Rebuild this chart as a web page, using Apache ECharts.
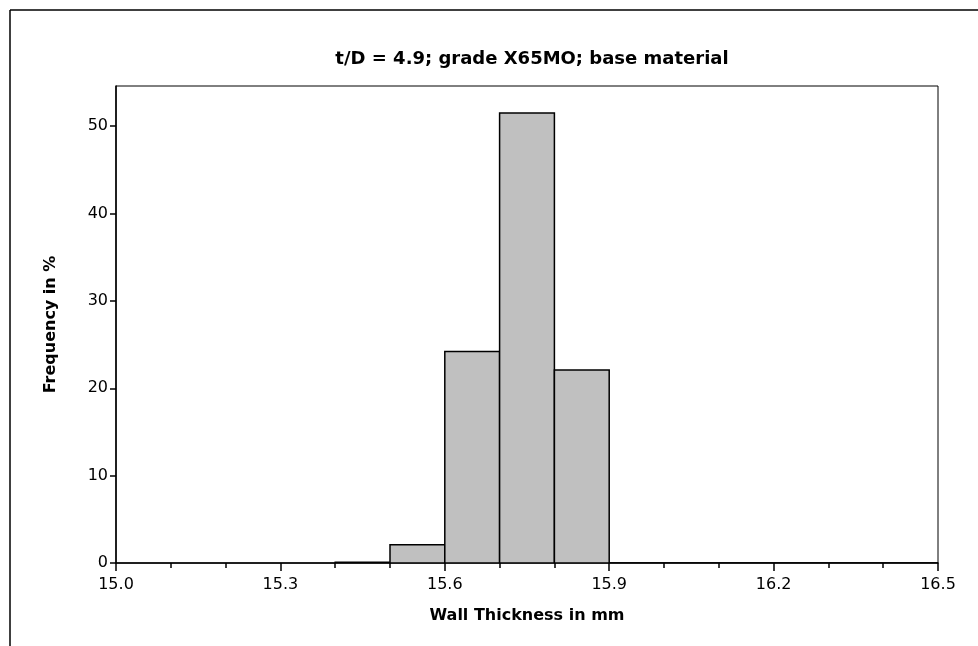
<!DOCTYPE html>
<html>
<head>
<meta charset="utf-8">
<script src="https://cdn.jsdelivr.net/npm/echarts@6/dist/echarts.min.js"></script>
<style>
	html, body { margin: 0; padding: 0; background: #fff; }
	#chart { width: 978px; height: 646px; }
</style>
</head>
<body>
<div id="chart"></div>
<script>
// histogram bins (lower edge, mm) and frequency in %
const binStarts = [15.4, 15.5, 15.6, 15.7, 15.8, 15.9, 16.0, 16.1, 16.2, 16.3, 16.4];
const binWidth = 0.1;
const frequency = [0.1, 2.1, 24.2, 51.5, 22.1, 0, 0, 0, 0, 0, 0];
const yTicks = [0, 10, 20, 30, 40, 50];

const titleText = 't/D = 4.9; grade X65MO; base material';
const fontName = '"DejaVu Sans", Verdana, sans-serif';

let myChart = echarts.init(document.getElementById('chart'), null, { renderer: 'canvas' });

let histData = binStarts.map((s, i) => [s, s + binWidth, frequency[i]]);

let option = {
	animation: false,
	backgroundColor: '#fff',
	title: {
		text: titleText,
		left: 527,
		top: 45,
		textAlign: 'center',
		textStyle: {
			fontFamily: fontName,
			fontSize: 18,
			fontWeight: 'bold',
			color: '#000'
		}
	},
	grid: {
		left: 116,
		right: 40,
		top: 86,
		bottom: 83,
		show: true,
		borderColor: '#000',
		borderWidth: 1
	},
	xAxis: {
		type: 'value',
		min: 15.0,
		max: 16.5,
		interval: 0.3,
		name: 'Wall Thickness in mm',
		nameLocation: 'middle',
		nameGap: 45,
		nameTextStyle: {
			fontFamily: fontName,
			fontSize: 16,
			fontWeight: 'bold',
			color: '#000'
		},
		axisLine: { lineStyle: { color: '#000', width: 1.5 } },
		axisTick: { inside: false, length: 8, lineStyle: { color: '#000', width: 1.5 } },
		minorTick: { show: true, splitNumber: 3, length: 5, lineStyle: { color: '#000', width: 1.5 } },
		splitLine: { show: false },
		axisLabel: {
			margin: 14,
			fontFamily: fontName,
			fontSize: 16,
			color: '#000',
			formatter: v => v.toFixed(1)
		}
	},
	yAxis: {
		type: 'value',
		min: 0,
		max: 54.6,
		name: 'Frequency in %',
		nameLocation: 'middle',
		nameGap: 57,
		nameTextStyle: {
			fontFamily: fontName,
			fontSize: 16,
			fontWeight: 'bold',
			color: '#000'
		},
		axisLine: { lineStyle: { color: '#000', width: 1.5 } },
		axisTick: { inside: false, length: 6, customValues: yTicks, lineStyle: { color: '#000', width: 1.5 } },
		splitLine: { show: false },
		axisLabel: {
			margin: 8,
			customValues: yTicks,
			fontFamily: fontName,
			fontSize: 16,
			color: '#000'
		}
	},
	graphic: [
		{ type: 'line', shape: { x1: 10, y1: 10, x2: 978, y2: 10 }, style: { stroke: '#000', lineWidth: 1.5 } },
		{ type: 'line', shape: { x1: 10, y1: 10, x2: 10, y2: 646 }, style: { stroke: '#000', lineWidth: 1.5 } }
	],
	series: [{
		type: 'custom',
		clip: true,
		data: histData,
		encode: { x: [0, 1], y: 2 },
		renderItem: function(params, api) {
			let p0 = api.coord([api.value(0), api.value(2)]);
			let p1 = api.coord([api.value(1), 0]);
			return {
				type: 'rect',
				shape: { x: p0[0], y: p0[1], width: p1[0] - p0[0], height: p1[1] - p0[1] },
				style: { fill: '#c0c0c0', stroke: '#000', lineWidth: 1.5 }
			};
		}
	}]
};

myChart.setOption(option);
</script>
</body>
</html>
